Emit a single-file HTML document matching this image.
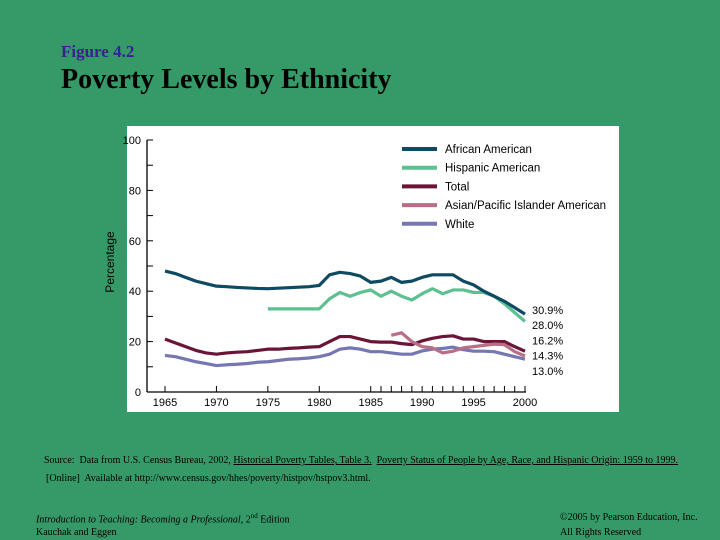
<!DOCTYPE html>
<html><head><meta charset="utf-8"><style>
body{margin:0;width:720px;height:540px;background:#359a67;position:relative;overflow:hidden;font-family:"Liberation Serif",serif}
.t{position:absolute;white-space:nowrap}
</style></head><body>
<div class="t" style="left:61px;top:42px;font-size:17px;font-weight:bold;color:#3a2090">Figure 4.2</div>
<div class="t" style="left:61px;top:64px;font-size:28px;font-weight:bold;color:#000">Poverty Levels by Ethnicity</div>
<svg style="position:absolute;left:0;top:0" width="720" height="540">
<rect x="127" y="126" width="492" height="286" fill="#fff"/>
<g id="g" font-family="Liberation Sans, sans-serif"></g>
</svg>
<div class="t" style="left:44px;top:455px;font-size:10px">Source:&nbsp; Data from U.S. Census Bureau, 2002, <u>Historical Poverty Tables, Table 3.</u>&nbsp; <u>Poverty Status of People by Age, Race, and Hispanic Origin: 1959 to 1999.</u></div>
<div class="t" style="left:46px;top:473px;font-size:10px">[Online]&nbsp; Available at http://www.census.gov/hhes/poverty/histpov/hstpov3.html.</div>
<div class="t" style="left:36px;top:512px;font-size:10px"><i>Introduction to Teaching: Becoming a Professional</i>, 2<sup style="font-size:7px">nd</sup> Edition</div>
<div class="t" style="left:36px;top:527px;font-size:10px">Kauchak and Eggen</div>
<div class="t" style="left:560px;top:512px;font-size:10px">©2005 by Pearson Education, Inc.</div>
<div class="t" style="left:560px;top:527px;font-size:10px">All Rights Reserved</div>
<script>
const years=[];for(let y=1965;y<=2000;y++)years.push(y);
const african=[48,47,45.5,44,43,42,41.8,41.5,41.3,41.1,41,41.2,41.4,41.6,41.8,42.3,46.5,47.5,47,46,43.5,44,45.5,43.5,44,45.5,46.5,46.5,46.5,44,42.5,40,38,36,33.5,30.9];
const hispanicYears=[1975,1976,1977,1978,1979,1980,1981,1982,1983,1984,1985,1986,1987,1988,1989,1990,1991,1992,1993,1994,1995,1996,1997,1998,1999,2000];
const hispanic=[33,33,33,33,33,33,37,39.5,38,39.5,40.5,38,40,38,36.5,39,41,39,40.5,40.5,39.5,39.5,38,35,31.5,28];
const total=[21,19.5,18,16.5,15.5,15,15.5,15.8,16,16.5,17,17,17.3,17.5,17.8,18,20,22,22,21,20,19.8,19.8,19.2,18.8,20.3,21.3,22,22.3,21,21,20,20,20,18,16.2];
const asianYears=[1987,1988,1989,1990,1991,1992,1993,1994,1995,1996,1997,1998,1999,2000];
const asian=[22.5,23.5,20,18,17.5,15.5,16.2,17.5,18,18.5,19,18.8,16,14.3];
const white=[14.5,14,13,12,11.3,10.5,10.8,11,11.3,11.8,12,12.5,13,13.2,13.5,14,15,17,17.5,17,16,16,15.5,15,15,16.3,17,17.3,17.8,16.8,16.2,16.2,16,15,14,13];
const yTicks=[0,20,40,60,80,100];
const xTicks=[1965,1970,1975,1980,1985,1990,1995,2000];
const endLabels=["30.9%","28.0%","16.2%","14.3%","13.0%"];
const legendNames=["African American","Hispanic American","Total","Asian/Pacific Islander American","White"];
const colors=["#0e4a63","#5cc090","#6a1538","#b86f85","#7676b3"];
const X=y=>165+(y-1965)*(525-165)/35;
const Y=v=>392-v*(392-140)/100;
const g=document.getElementById('g');const NS='http://www.w3.org/2000/svg';
function mk(t,a){const e=document.createElementNS(NS,t);for(const k in a)e.setAttribute(k,a[k]);g.appendChild(e);return e;}
let e=mk('line',{x1:147,y1:140,x2:147,y2:392,stroke:'#000','stroke-width':1.3});

e=mk('line',{x1:147,y1:392,x2:526,y2:392,stroke:'#000','stroke-width':1.3});

for(let v=0;v<=100;v+=10){e=mk('line',{x1:147,x2:153,y1:Y(v),y2:Y(v),stroke:'#000'});
}
yTicks.forEach(v=>{e=mk('text',{x:141,y:Y(v)+4,'text-anchor':'end','font-size':11});e.textContent=v;
});
const tickYears=[1965,1970,1975,1980];for(let y=1985;y<=2000;y++)tickYears.push(y);
tickYears.forEach(y=>{e=mk('line',{x1:X(y),x2:X(y),y1:392,y2:386,stroke:'#000'});
});
xTicks.forEach(y=>{e=mk('text',{x:X(y),y:406,'text-anchor':'middle','font-size':11});e.textContent=y;
});
e=mk('text',{x:0,y:0,'text-anchor':'middle','font-size':12,transform:'translate(114,262) rotate(-90)'});e.textContent='Percentage';

const series=[[years,african],[hispanicYears,hispanic],[years,total],[asianYears,asian],[years,white]];
const names=['african-american-line','hispanic-american-line','total-line','asian-line','white-line'];
[1,0,2,4,3].forEach(i=>{const [xs,vs]=series[i];
e=mk('polyline',{points:vs.map((v,k)=>X(xs[k])+','+Y(v)).join(' '),fill:'none',stroke:colors[i],'stroke-width':3.2,'stroke-linejoin':'round'});
});
legendNames.forEach((n,i)=>{const ly=149+i*18.7;
e=mk('line',{x1:402,x2:437,y1:ly,y2:ly,stroke:colors[i],'stroke-width':4});

e=mk('text',{x:445,y:ly+4,'font-size':11.5});e.textContent=n;
});
endLabels.forEach((s,i)=>{e=mk('text',{x:532,y:314+i*15.2,'font-size':11});e.textContent=s;
});
</script>
</body></html>
